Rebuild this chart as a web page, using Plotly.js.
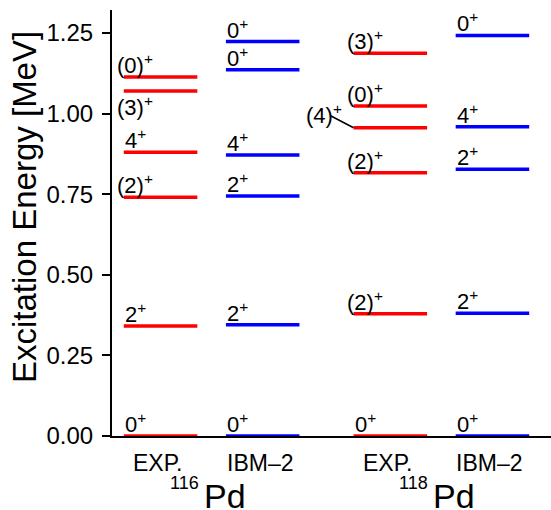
<!DOCTYPE html>
<html>
<head>
<meta charset="utf-8">
<script src="https://cdn.plot.ly/plotly-3.0.1.min.js"></script>
<style>html,body{margin:0;padding:0;background:#fff;}</style>
</head>
<body>
<div id="chart" style="width:551px;height:510px;"></div>
<script>
// ---- data ----
var columnNames = ['EXP.', 'IBM\u20132', 'EXP.', 'IBM\u20132'];
var columnPos = [1, 2, 3.25, 4.25];
var nucleusMass = ['116', '118'];
var nucleusSymbol = ['Pd', 'Pd'];

var exp116E = [0, 0.341, 0.740, 0.880, 1.070, 1.113];
var exp116J = ['0', '2', '(2)', '4', '(3)', '(0)'];
var ibm116E = [0, 0.345, 0.744, 0.871, 1.136, 1.223];
var ibm116J = ['0', '2', '2', '4', '0', '0'];
var exp118E = [0, 0.379, 0.816, 0.956, 1.023, 1.187];
var exp118J = ['0', '(2)', '(2)', '(4)', '(0)', '(3)'];
var ibm118E = [0, 0.381, 0.827, 0.959, 1.242];
var ibm118J = ['0', '2', '2', '4', '0'];

var yTicks = [0, 0.25, 0.5, 0.75, 1.0, 1.25];

// ---- drawing ----
var levelE = [exp116E, ibm116E, exp118E, ibm118E];
var levelJ = [exp116J, ibm116J, exp118J, ibm118J];
var colColor = ['#ff0000', '#0000ff', '#ff0000', '#0000ff'];
var halfW = 0.36;
var FONT = 'Liberation Sans, Arial, Helvetica, sans-serif';

var traces = [];
var annotations = [];
for (var c = 0; c < 4; c++) {
  var xs = [], ys = [];
  var x0 = columnPos[c] - halfW, x1 = columnPos[c] + halfW;
  levelE[c].forEach(function (e, i) {
    xs.push(x0, x1, null);
    ys.push(e, e, null);
    var j = levelJ[c][i];
    var paren = j.charAt(0) === '(';
    var ann = {
      x: x0, y: e, xref: 'x', yref: 'y',
      text: j + '<sup>+</sup>',
      showarrow: false,
      xanchor: 'left', yanchor: 'bottom',
      xshift: paren ? -9 : -1, yshift: -3,
      font: {family: FONT, size: 22, color: '#000'}
    };
    if (c === 0 && j === '(3)') {
      ann.yanchor = 'top';
      ann.yshift = 1;
    }
    if (c === 2 && j === '(4)') {
      ann.xanchor = 'right';
      ann.xshift = -10;
      ann.yshift = -2;
      annotations.push({
        x: x0, y: e, xref: 'x', yref: 'y', text: ' ',
        font: {size: 1}, showarrow: true, arrowhead: 0, arrowwidth: 1.6,
        arrowcolor: '#000', ax: -25, ay: -13, standoff: 0, startstandoff: 0
      });
    }
    annotations.push(ann);
  });
  traces.push({
    type: 'scatter', mode: 'lines', x: xs, y: ys,
    line: {color: colColor[c], width: 3.5},
    cliponaxis: false, hoverinfo: 'skip', showlegend: false
  });
  annotations.push({
    x: columnPos[c], y: 0, xref: 'x', yref: 'paper',
    text: columnNames[c], showarrow: false,
    xanchor: 'center', yanchor: 'top', yshift: -12, xshift: -3,
    font: {family: FONT, size: 23, color: '#000'}
  });
}
for (var n = 0; n < 2; n++) {
  var mid = (columnPos[2 * n] + columnPos[2 * n + 1]) / 2;
  annotations.push({
    x: mid, y: 0, xref: 'x', yref: 'paper', text: nucleusMass[n],
    showarrow: false, xanchor: 'right', yanchor: 'top',
    xshift: -11, yshift: -35,
    font: {family: FONT, size: 18, color: '#000'}
  });
  annotations.push({
    x: mid, y: 0, xref: 'x', yref: 'paper', text: nucleusSymbol[n],
    showarrow: false, xanchor: 'left', yanchor: 'top',
    xshift: -10, yshift: -39,
    font: {family: FONT, size: 34, color: '#000'}
  });
}
// y-axis title
annotations.push({
  x: 0, y: 0.5, xref: 'paper', yref: 'paper',
  text: 'Excitation Energy [MeV]', showarrow: false, textangle: -90,
  xanchor: 'center', yanchor: 'middle', xshift: -88, yshift: 16,
  font: {family: FONT, size: 33, color: '#000'}
});

var layout = {
  width: 551, height: 510,
  margin: {l: 112, r: 0, t: 10, b: 74},
  paper_bgcolor: '#fff', plot_bgcolor: '#fff',
  showlegend: false,
  xaxis: {
    range: [0.5245, 4.8235], showline: true, linecolor: '#000', linewidth: 2,
    showticklabels: false, ticks: '', showgrid: false, zeroline: false,
    layer: 'below traces', fixedrange: true
  },
  yaxis: {
    range: [0, 1.321], showline: true, linecolor: '#000', linewidth: 2,
    ticks: 'outside', ticklen: 8, tickwidth: 2, tickcolor: '#000',
    tickvals: yTicks, tickformat: '.2f', ticklabelstandoff: 4,
    tickfont: {family: FONT, size: 24, color: '#000'},
    showgrid: false, zeroline: false, layer: 'below traces', fixedrange: true
  },
  annotations: annotations
};

Plotly.newPlot('chart', traces, layout, {staticPlot: true, displayModeBar: false});
</script>
</body>
</html>
